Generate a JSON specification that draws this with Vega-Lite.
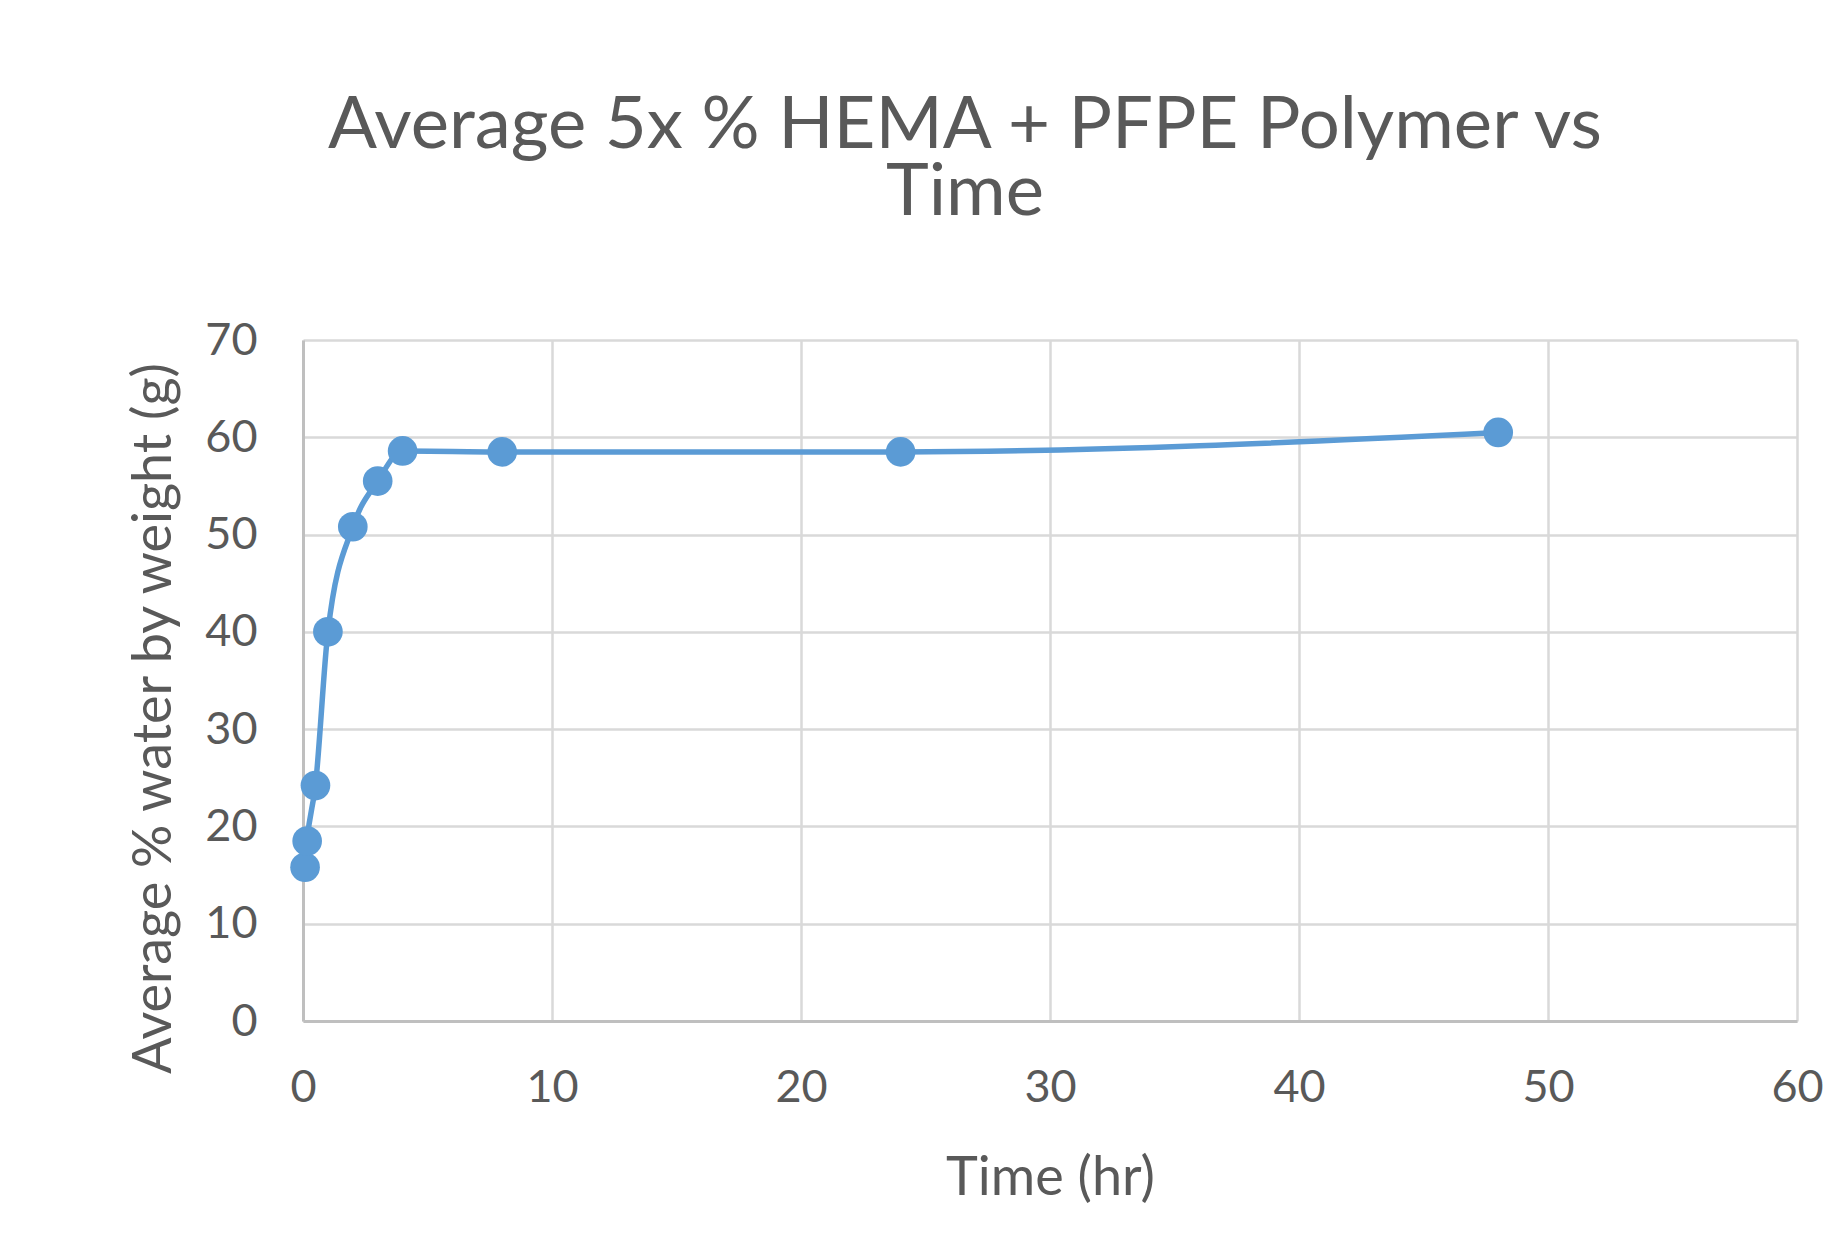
{
  "$schema": "https://vega.github.io/schema/vega-lite/v6.json",
  "autosize": "none",
  "width": 1494,
  "height": 681,
  "padding": {"left": 303, "top": 340, "right": 33, "bottom": 239},
  "background": "white",
  "title": {
    "text": ["Average 5x % HEMA + PFPE Polymer vs", "Time"],
    "anchor": "middle",
    "dx": -85,
    "font": "Lato",
    "fontSize": 72.5,
    "fontWeight": "normal",
    "color": "#595959",
    "lineHeight": 67,
    "offset": 88
  },
  "config": {
    "view": {"stroke": null},
    "axis": {
      "labelFont": "Lato",
      "labelFontSize": 45,
      "labelColor": "#595959",
      "titleFont": "Lato",
      "titleFontSize": 54,
      "titleFontWeight": "normal",
      "titleColor": "#595959",
      "gridColor": "#D9D9D9",
      "gridWidth": 2.5,
      "gridOpacity": 1,
      "domainColor": "#BFBFBF",
      "domainWidth": 3,
      "ticks": false,
      "tickSize": 0
    }
  },
  "data": {
    "values": [
      {"time": 0.083, "water": 15.8},
      {"time": 0.167, "water": 18.5},
      {"time": 0.5, "water": 24.2},
      {"time": 1, "water": 40.0},
      {"time": 2, "water": 50.8},
      {"time": 3, "water": 55.5},
      {"time": 4, "water": 58.6},
      {"time": 8, "water": 58.5},
      {"time": 24, "water": 58.5},
      {"time": 48, "water": 60.5}
    ]
  },
  "encoding": {
    "x": {
      "field": "time",
      "type": "quantitative",
      "title": "Time (hr)",
      "scale": {"domain": [0, 60], "nice": false, "zero": true},
      "axis": {"values": [0, 10, 20, 30, 40, 50, 60], "labelPadding": 44, "titleY": 130, "titleBaseline": "top", "labelFlush": false}
    },
    "y": {
      "field": "water",
      "type": "quantitative",
      "title": "Average % water by weight (g)",
      "scale": {"domain": [0, 70], "nice": false},
      "axis": {"values": [0, 10, 20, 30, 40, 50, 60, 70], "labelPadding": 46, "titleX": -122, "titleY": 378, "labelFlush": false}
    }
  },
  "layer": [
    {"mark": {"type": "line", "color": "#5B9BD5", "strokeWidth": 5.5, "interpolate": "monotone"}},
    {"mark": {"type": "point", "filled": true, "color": "#5B9BD5", "opacity": 1, "size": 880}}
  ]
}
